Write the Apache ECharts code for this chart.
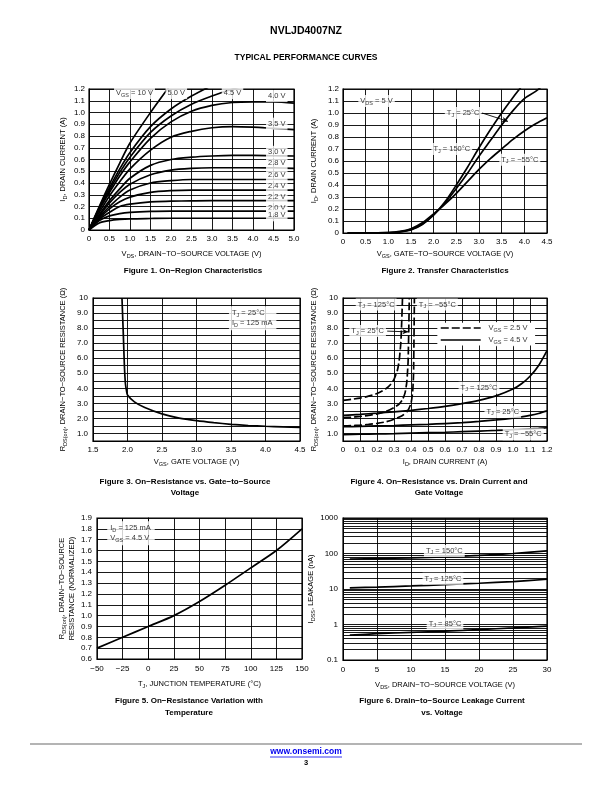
<!DOCTYPE html>
<html><head><meta charset="utf-8">
<script src="https://cdn.jsdelivr.net/npm/echarts@6/dist/echarts.min.js"></script>
<style>html,body{margin:0;padding:0;background:#fff}#c{width:612px;height:792px}</style>
</head><body><div id="c"></div>
<script>
// ---------- Figure 1: On-Region Characteristics ----------
const f1Vds  = [0,0.25,0.5,0.75,1.0,1.5,2.0,2.5,3.0,3.5,4.0,4.5,5.0];
const f1Id10 = [0,0.2,0.39,0.57,0.74,1.0,1.24];
const f1Id50 = [0,0.19,0.36,0.52,0.66,0.88,1.03,1.14,1.23];
const f1Id45 = [0,0.18,0.34,0.49,0.62,0.83,0.97,1.07,1.14,1.2,1.24];
const f1Id40 = [0,0.17,0.32,0.46,0.58,0.78,0.92,1.01,1.06,1.085,1.09,1.09,1.08];
const f1Id35 = [0,0.15,0.29,0.41,0.52,0.68,0.79,0.84,0.87,0.88,0.875,0.865,0.855];
const f1Id30 = [0,0.13,0.25,0.35,0.44,0.55,0.60,0.62,0.63,0.635,0.635,0.632,0.63];
const f1Id28 = [0,0.12,0.23,0.32,0.39,0.47,0.51,0.525,0.53,0.53,0.53,0.528,0.525];
const f1Id26 = [0,0.11,0.2,0.28,0.34,0.4,0.42,0.43,0.43,0.43,0.43,0.43,0.43];
const f1Id24 = [0,0.1,0.18,0.24,0.28,0.32,0.335,0.34,0.34,0.34,0.34,0.34,0.34];
const f1Id22 = [0,0.09,0.15,0.2,0.22,0.24,0.245,0.248,0.25,0.25,0.25,0.25,0.25];
const f1Id20 = [0,0.08,0.12,0.14,0.15,0.158,0.16,0.16,0.16,0.16,0.16,0.16,0.16];
const f1Id18 = [0,0.06,0.08,0.09,0.095,0.098,0.1,0.1,0.1,0.1,0.1,0.1,0.1];
const f1Curves = [f1Id10,f1Id50,f1Id45,f1Id40,f1Id35,f1Id30,f1Id28,f1Id26,f1Id24,f1Id22,f1Id20,f1Id18];

// ---------- Figure 2: Transfer Characteristics ----------
const f2Vgs = [0.1,0.5,1.0,1.25,1.5,1.75,2.0,2.25,2.5,2.75,3.0,3.25,3.5,3.75,4.0,4.25,4.5];
const f2Id25  = [0,0,0.002,0.008,0.025,0.07,0.15,0.26,0.4,0.55,0.71,0.86,1.0,1.13,1.25];
const f2Id150 = [0,0,0.003,0.01,0.03,0.075,0.15,0.25,0.37,0.5,0.64,0.77,0.9,1.02,1.12,1.18,1.26];
const f2IdM55 = [0,0,0.004,0.013,0.036,0.085,0.16,0.24,0.33,0.43,0.53,0.62,0.7,0.78,0.85,0.91,0.96];

// ---------- Figure 3: On-Resistance vs. Gate-to-Source Voltage ----------
const f3Vgs = [1.92,1.94,1.955,1.97,1.985,2.0,2.1,2.25,2.5,2.75,3.0,3.25,3.5,3.75,4.0,4.25,4.5];
const f3Rds = [10,7.5,5.5,4.3,3.85,3.55,3.1,2.72,2.3,2.02,1.85,1.72,1.61,1.53,1.48,1.44,1.41];

// ---------- Figure 4: On-Resistance vs. Drain Current and Gate Voltage ----------
const f4IdS   = [0,0.1,0.2,0.3,0.4,0.5,0.6,0.7,0.8,0.9,1.0,1.05,1.1,1.15,1.2];
const f4R125s = [2.2,2.27,2.35,2.44,2.54,2.66,2.8,2.98,3.2,3.5,3.95,4.3,4.8,5.5,6.5];
const f4R25s  = [1.45,1.47,1.5,1.53,1.57,1.61,1.66,1.72,1.8,1.9,2.02,2.1,2.2,2.33,2.5];
const f4R55s  = [0.93,0.95,0.97,0.99,1.02,1.05,1.08,1.12,1.16,1.2,1.25,1.28,1.31,1.34,1.38];
const f4IdD125 = [0,0.05,0.1,0.15,0.2,0.25,0.28,0.3,0.32,0.33,0.34,0.345,0.35];
const f4R125d  = [3.2,3.27,3.35,3.48,3.65,3.95,4.25,4.6,5.2,5.8,7.0,8.3,10];
const f4IdD25  = [0,0.05,0.1,0.15,0.2,0.25,0.3,0.33,0.35,0.365,0.375,0.383,0.39];
const f4R25d   = [2.05,2.08,2.13,2.2,2.3,2.45,2.72,2.95,3.25,3.7,4.4,5.8,10];
const f4IdD55  = [0,0.05,0.1,0.15,0.2,0.25,0.3,0.35,0.38,0.4,0.41,0.415,0.42];
const f4R55d   = [1.5,1.52,1.55,1.6,1.67,1.77,1.95,2.2,2.5,3.0,3.8,5.0,10];

// ---------- Figure 5: On-Resistance Variation with Temperature ----------
const f5Tj = [-50,-25,0,25,50,75,100,125,150];
const f5R  = [0.7,0.8,0.9,1.0,1.13,1.28,1.44,1.6,1.8];

// ---------- Figure 6: Drain-to-Source Leakage Current vs. Voltage ----------
const f6Vds  = [1,5,10,15,20,25,30];
const f6I150 = [70,72,75,80,88,100,118];
const f6I125 = [10.8,11.3,12.2,13.3,14.5,16.2,18.8];
const f6I85  = [0.5,0.55,0.6,0.65,0.72,0.8,0.9];
const f6MinorGrid = [0.2,0.3,0.4,0.5,0.6,0.7,0.8,0.9,2,3,4,5,6,7,8,9,20,30,40,50,60,70,80,90,200,300,400,500,600,700,800,900];

// ---------- helpers ----------
const FONT = '"Liberation Sans", Arial, Helvetica, sans-serif';
const rich = {
  a:{fontSize:7.5,fontFamily:FONT,color:'#000',lineHeight:10},
  s:{fontSize:5.5,fontFamily:FONT,color:'#000',verticalAlign:'bottom',lineHeight:6}
};
const R = (m, s, r) => `{a|${m}}{s|${s}}{a|${r}}`;
const P = (t) => `{a|${t}}`;
const zip = (xs, ys) => ys.map((y,i)=>[xs[i], y]).filter(d => d[1] != null);
const fmt1 = v => (Math.abs(v) < 1e-9 ? '0' : (+v).toFixed(1));
const fmtHalf = v => { const r = Math.round(v*10)/10; if (Math.abs(r - Math.round(r)) > 1e-6) return ''; return r === 10 ? '10' : r.toFixed(1); };

function curve(g, xs, ys, extra) {
  return Object.assign({
    type:'line', xAxisIndex:g, yAxisIndex:g, data: zip(xs, ys),
    symbol:'none', showSymbol:false, smooth:0.3, silent:true,
    lineStyle:{color:'#000', width:1.7}, z:4
  }, extra || {});
}
function labels(g, items, extra) {
  return Object.assign({
    type:'scatter', xAxisIndex:g, yAxisIndex:g, symbolSize:1, silent:true, z:6,
    itemStyle:{color:'rgba(0,0,0,0)'},
    data: items.map(it => ({value:[it[0], it[1], it[2]], label: it[3] ? {align: it[3]} : undefined})),
    label:{show:true, position:'inside', formatter: p => p.data.value[2], rich: rich,
           backgroundColor:'#fff', padding:[1,2]}
  }, extra || {});
}
function arrowLine(g, from, to) {
  return {type:'line', xAxisIndex:g, yAxisIndex:g, data: [], z:7, silent:true,
    markLine:{silent:true, symbol:['none','arrow'], symbolSize:[4,6], animation:false,
      label:{show:false}, lineStyle:{color:'#000', width:0.9, type:'solid'},
      data:[[{coord:from},{coord:to}]]}};
}

function axis(g, o) {
  return Object.assign({
    gridIndex:g, type:'value',
    axisLine:{show:true, lineStyle:{color:'#000', width:1}},
    axisTick:{show:false},
    splitLine:{show:true, lineStyle:{color:'#000', width:0.9}},
    nameLocation:'middle',
    nameTextStyle:{rich: rich, color:'#000'}
  }, o);
}
const lab = (fmt, margin) => ({color:'#000', fontSize:8, fontFamily:FONT, margin:margin, formatter:fmt});

const grids = [
  {left:89, top:89, width:205, height:141},
  {left:343, top:89, width:204, height:144},
  {left:93, top:298, width:207, height:143},
  {left:343, top:298, width:204, height:143},
  {left:97, top:518, width:205, height:141},
  {left:343, top:518, width:204, height:142}
].map(g => Object.assign({show:true, borderColor:'#000', borderWidth:1.2, backgroundColor:'rgba(0,0,0,0)', containLabel:false}, g));

const xAxes = [
  axis(0,{min:0,max:5,interval:0.5, axisLabel:lab(fmt1,5), name:R('V','DS',', DRAIN−TO−SOURCE VOLTAGE (V)'), nameGap:19}),
  axis(1,{min:0,max:4.5,interval:0.5, axisLabel:lab(fmt1,5), name:R('V','GS',', GATE−TO−SOURCE VOLTAGE (V)'), nameGap:16}),
  axis(2,{min:1.5,max:4.5,interval:0.5, axisLabel:lab(v=>(+v).toFixed(1),5), name:R('V','GS',', GATE VOLTAGE (V)'), nameGap:16}),
  axis(3,{min:0,max:1.2,interval:0.1, axisLabel:lab(fmt1,5), name:R('I','D',', DRAIN CURRENT (A)'), nameGap:16}),
  axis(4,{min:-50,max:150,interval:25, axisLabel:lab(v=>(v<0?'−'+Math.abs(v):String(v)),6), name:R('T','J',', JUNCTION TEMPERATURE (°C)'), nameGap:20}),
  axis(5,{min:0,max:30,interval:5, axisLabel:lab(v=>String(v),6), name:R('V','DS',', DRAIN−TO−SOURCE VOLTAGE (V)'), nameGap:20})
];
const yAxes = [
  axis(0,{min:0,max:1.2,interval:0.1, axisLabel:lab(fmt1,4), name:R('I','D',', DRAIN CURRENT (A)'), nameGap:21}),
  axis(1,{min:0,max:1.2,interval:0.1, axisLabel:lab(fmt1,4), name:R('I','D',', DRAIN CURRENT (A)'), nameGap:24}),
  axis(2,{min:0.5,max:10,interval:0.5, axisLabel:lab(fmtHalf,5), name:R('R','DS(on)',', DRAIN−TO−SOURCE RESISTANCE (Ω)'), nameGap:25}),
  axis(3,{min:0.5,max:10,interval:0.5, axisLabel:lab(fmtHalf,5), name:R('R','DS(on)',', DRAIN−TO−SOURCE RESISTANCE (Ω)'), nameGap:24}),
  axis(4,{min:0.6,max:1.9,interval:0.1, axisLabel:lab(v=>(+v).toFixed(1),5), name:R('R','DS(on)',', DRAIN−TO−SOURCE')+'\n'+P('RESISTANCE (NORMALIZED)'), nameGap:20}),
  axis(5,{type:'log', logBase:10, min:0.1, max:1000, splitNumber:4, axisLabel:lab(v=>(v<1?(+v).toFixed(1):String(Math.round(v))),5), name:R('I','DSS',', LEAKAGE (nA)'), nameGap:24})
];

const series = [];
// Figure 1
f1Curves.forEach(c => series.push(curve(0, f1Vds, c)));
series.push(labels(0, [
  [1.11,1.165, R('V','GS',' = 10 V')],
  [2.13,1.165, P('5.0 V')],
  [3.5,1.165, P('4.5 V')],
  [4.58,1.14, P('4.0 V')],
  [4.58,0.905, P('3.5 V')],
  [4.58,0.665, P('3.0 V')],
  [4.58,0.57, P('2.8 V')],
  [4.58,0.47, P('2.6 V')],
  [4.58,0.375, P('2.4 V')],
  [4.58,0.28, P('2.2 V')],
  [4.58,0.19, P('2.0 V')],
  [4.58,0.125, P('1.8 V')]
]));
// Figure 2
series.push(curve(1, f2Vgs, f2Id25));
series.push(curve(1, f2Vgs, f2Id150));
series.push(curve(1, f2Vgs, f2IdM55));
series.push(labels(1, [
  [0.74,1.1, R('V','DS',' = 5 V')],
  [2.65,1.0, R('T','J',' = 25°C')],
  [2.4,0.7, R('T','J',' = 150°C')],
  [3.9,0.61, R('T','J',' = −55°C')]
]));
series.push(arrowLine(1, [3.07,1.0], [3.64,0.93]));
// Figure 3
series.push(curve(2, f3Vgs, f3Rds, {smooth:0.2}));
series.push(labels(2, [
  [3.47,8.65, R('T','J',' = 25°C')+'\n'+R('I','D',' = 125 mA'), 'left']
], {label:{show:true, position:'inside', formatter:p=>p.data.value[2], rich:rich, backgroundColor:'#fff', padding:[2,4,2,3]}}));
// Figure 4
series.push(curve(3, f4IdS, f4R125s));
series.push(curve(3, f4IdS, f4R25s));
series.push(curve(3, f4IdS, f4R55s));
series.push(curve(3, f4IdD125, f4R125d, {smooth:0.2, lineStyle:{color:'#000',width:1.7,type:[8,3]}}));
series.push(curve(3, f4IdD25, f4R25d, {smooth:0.2, lineStyle:{color:'#000',width:1.7,type:[8,3]}}));
series.push(curve(3, f4IdD55, f4R55d, {smooth:0.2, lineStyle:{color:'#000',width:1.7,type:[8,3]}}));
series.push({type:'line', xAxisIndex:3, yAxisIndex:3, data:[], z:5, silent:true,
  markArea:{silent:true, itemStyle:{color:'#fff', opacity:1}, data:[[{coord:[0.555,8.35]},{coord:[1.13,6.85]}]]},
  markLine:{silent:true, symbol:['none','none'], label:{show:false}, animation:false,
    data:[
      [{coord:[0.575,8.0], lineStyle:{color:'#000',width:1.7,type:[8,3]}},{coord:[0.81,8.0]}],
      [{coord:[0.575,7.2], lineStyle:{color:'#000',width:1.7,type:'solid'}},{coord:[0.81,7.2]}]
    ]}});
series.push(labels(3, [
  [0.195,9.56, R('T','J',' = 125°C')],
  [0.555,9.56, R('T','J',' = −55°C')],
  [0.145,7.8, R('T','J',' = 25°C')],
  [0.97,8.0, R('V','GS',' = 2.5 V')],
  [0.97,7.2, R('V','GS',' = 4.5 V')],
  [0.8,4.04, R('T','J',' = 125°C')],
  [0.94,2.43, R('T','J',' = 25°C')],
  [1.06,0.95, R('T','J',' = −55°C')]
]));
series.push(arrowLine(3, [0.26,7.8], [0.385,7.75]));
// Figure 5
series.push(curve(4, f5Tj, f5R, {smooth:0.3}));
series.push(labels(4, [
  [-40,1.76, R('I','D',' = 125 mA')+'\n'+R('V','GS',' = 4.5 V'), 'left']
], {label:{show:true, position:'inside', formatter:p=>p.data.value[2], rich:rich, backgroundColor:'#fff', padding:[2,4,2,3]}}));
// Figure 6
series.push({type:'line', xAxisIndex:5, yAxisIndex:5, data:[], z:1, silent:true,
  markLine:{silent:true, symbol:['none','none'], label:{show:false}, animation:false,
    lineStyle:{color:'#000', width:0.9, type:'solid'},
    data: f6MinorGrid.map(v => ({yAxis:v}))}});
series.push(curve(5, f6Vds, f6I150));
series.push(curve(5, f6Vds, f6I125));
series.push(curve(5, f6Vds, f6I85));
series.push(labels(5, [
  [14.9,118, R('T','J',' = 150°C')],
  [14.7,19.5, R('T','J',' = 125°C')],
  [15,1.07, R('T','J',' = 85°C')]
]));

const cap = (x, y, t) => ({type:'text', x:x, y:y, silent:true,
  style:{text:t, fontSize:8, fontWeight:'bold', fontFamily:FONT, fill:'#000', align:'center', verticalAlign:'middle'}});

const graphic = [
  {type:'text', x:306, y:31, silent:true, style:{text:'NVLJD4007NZ', fontSize:10.5, fontWeight:'bold', fontFamily:FONT, fill:'#000', align:'center', verticalAlign:'middle'}},
  {type:'text', x:306, y:58, silent:true, style:{text:'TYPICAL PERFORMANCE CURVES', fontSize:8.5, fontWeight:'bold', fontFamily:FONT, fill:'#000', align:'center', verticalAlign:'middle'}},
  cap(193,271,'Figure 1. On−Region Characteristics'),
  cap(445,271,'Figure 2. Transfer Characteristics'),
  cap(185,482,'Figure 3. On−Resistance vs. Gate−to−Source'),
  cap(185,493,'Voltage'),
  cap(439,482,'Figure 4. On−Resistance vs. Drain Current and'),
  cap(439,493,'Gate Voltage'),
  cap(189,701,'Figure 5. On−Resistance Variation with'),
  cap(189,713,'Temperature'),
  cap(442,701,'Figure 6. Drain−to−Source Leakage Current'),
  cap(442,713,'vs. Voltage'),
  {type:'line', silent:true, shape:{x1:30,y1:744,x2:582,y2:744}, style:{stroke:'#b4b4b4', lineWidth:2}},
  {type:'text', x:306, y:752, silent:true, style:{text:'www.onsemi.com', fontSize:8.5, fontWeight:'bold', fontFamily:FONT, fill:'#0000ee', align:'center', verticalAlign:'middle'}},
  {type:'line', silent:true, shape:{x1:270,y1:757,x2:342,y2:757}, style:{stroke:'#0000ee', lineWidth:0.8}},
  {type:'text', x:306, y:763, silent:true, style:{text:'3', fontSize:7.5, fontWeight:'bold', fontFamily:FONT, fill:'#000', align:'center', verticalAlign:'middle'}}
];

const chart = echarts.init(document.getElementById('c'), null, {renderer:'canvas', width:612, height:792});
chart.setOption({animation:false, backgroundColor:'#fff', grid:grids, xAxis:xAxes, yAxis:yAxes, series:series, graphic:graphic});
</script>
</body></html>
